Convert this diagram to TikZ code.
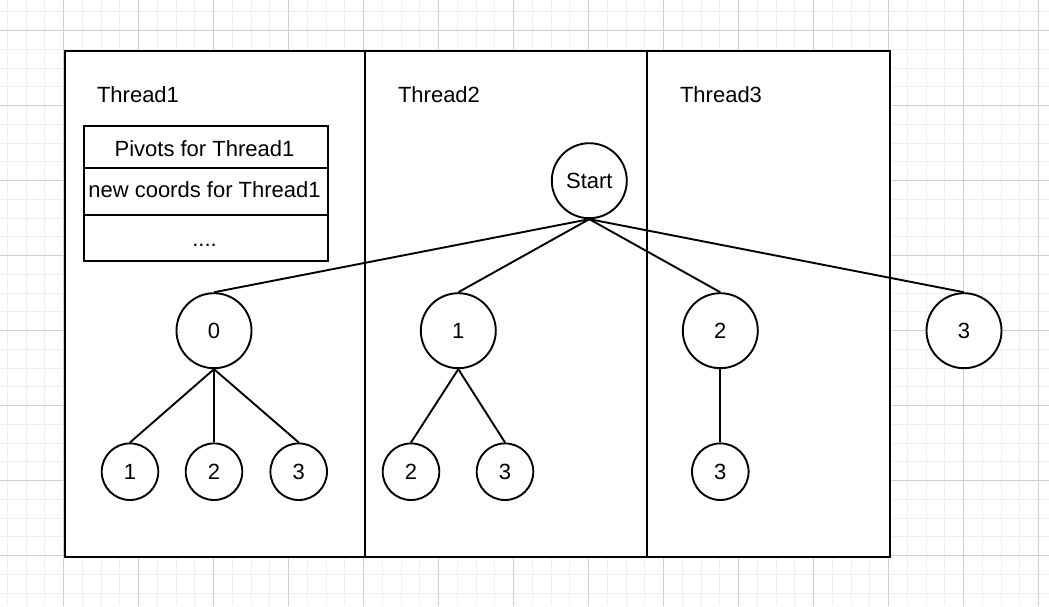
\documentclass[tikz,border=0pt]{standalone}
\usepackage{fontspec}
\setmainfont{Liberation Sans}
\definecolor{gminor}{RGB}{238,238,238}
\definecolor{gmajor}{RGB}{208,208,208}
\begin{document}
\begin{tikzpicture}[x=1pt,y=-1pt,
  font=\fontsize{22}{26}\selectfont,
  line width=1.9pt,
  panel/.style={draw=black, fill=white, rectangle, inner sep=0pt, anchor=north west},
  cell/.style={draw=black, fill=white, rectangle, inner sep=0pt, anchor=north west, minimum width=244.3pt},
  celltext/.style={anchor=base, inner sep=0pt},
  bigc/.style={draw=black, fill=white, circle, inner sep=0pt, minimum size=75pt},
  smallc/.style={draw=black, fill=white, circle, inner sep=0pt, minimum size=56.6pt},
  lbl/.style={anchor=base, inner sep=0pt},
  edge/.style={draw=black, line width=1.9pt}]
\useasboundingbox (0,0) rectangle (1049,606);
\fill[white] (0,0) rectangle (1049,606);
% grid
\foreach \i in {0,...,55} \draw[gminor, line width=1pt] ({7.25+18.75*\i},0) -- ({7.25+18.75*\i},606);
\foreach \i in {0,...,31} \draw[gminor, line width=1pt] (0,{11.95+18.75*\i}) -- (1049,{11.95+18.75*\i});
\foreach \i in {0,...,13} \draw[gmajor, line width=1pt] ({63.5+75*\i},0) -- ({63.5+75*\i},606);
\foreach \i in {0,...,7} \draw[gmajor, line width=1pt] (0,{30.7+75*\i}) -- (1049,{30.7+75*\i});
% panels
\node[panel, minimum width=300pt, minimum height=506pt] (p1) at (64,50) {};
\node[panel, minimum width=282pt, minimum height=506pt] (p2) at (364,50) {};
\node[panel, minimum width=243pt, minimum height=506pt] (p3) at (646,50) {};
% labels
\node[lbl] (t1) at (138,102.7) {Thread1};
\node[lbl] (t2) at (439,102.7) {Thread2};
\node[lbl] (t3) at (721,102.7) {Thread3};
% stack
\node[cell, minimum height=42pt] (r1) at (82.7,125) {};
\node[cell, minimum height=46.7pt] (r2) at (82.7,167) {};
\node[cell, minimum height=46.6pt] (r3) at (82.7,213.7) {};
\node[celltext] (r1t) at (204.5,156.5) {Pivots for Thread1};
\node[celltext] (r2t) at (204.5,197.5) {new coords for Thread1};
\node[celltext] (r3t) at (204.5,246) {....};
% tree nodes
\node[bigc] (start) at (589.3,180.7) {Start};
\node[bigc] (a0) at (214,330.7) {0};
\node[bigc] (a1) at (458.3,330.7) {1};
\node[bigc] (a2) at (720.3,330.7) {2};
\node[bigc] (a3) at (964,330.7) {3};
\node[smallc] (b1) at (130,471.7) {1};
\node[smallc] (b2) at (214,471.7) {2};
\node[smallc] (b3) at (298.7,471.7) {3};
\node[smallc] (c2) at (411,471.7) {2};
\node[smallc] (c3) at (505,471.7) {3};
\node[smallc] (d3) at (720.3,471.7) {3};
% edges
\draw[edge] (start.south) -- (a0.north);
\draw[edge] (start.south) -- (a1.north);
\draw[edge] (start.south) -- (a2.north);
\draw[edge] (start.south) -- (a3.north);
\draw[edge] (a0.south) -- (b1.north);
\draw[edge] (a0.south) -- (b2.north);
\draw[edge] (a0.south) -- (b3.north);
\draw[edge] (a1.south) -- (c2.north);
\draw[edge] (a1.south) -- (c3.north);
\draw[edge] (a2.south) -- (d3.north);
\end{tikzpicture}
\end{document}
